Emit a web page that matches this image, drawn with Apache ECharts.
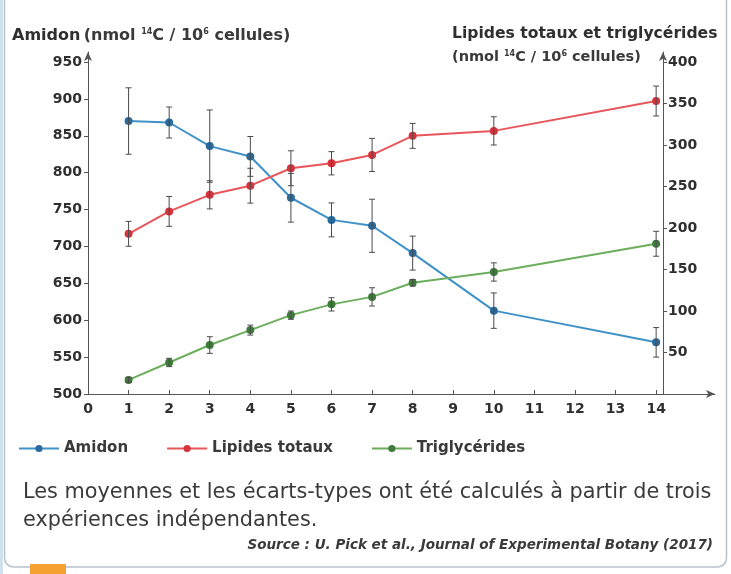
<!DOCTYPE html>
<html>
<head>
<meta charset="utf-8">
<script src="https://cdn.jsdelivr.net/npm/echarts@6/dist/echarts.min.js"></script>
<style>
  html, body { margin: 0; padding: 0; background: #ffffff; }
  #chart { width: 731px; height: 574px; }
</style>
</head>
<body>
<div id="chart"></div>
<script>
// Culture time (days)
const days = [1, 2, 3, 4, 5, 6, 7, 8, 10, 14];

// Starch (nmol 14C / 10^6 cells), mean and standard deviation
const amidon = [870, 868, 836, 822, 766, 736, 728, 691, 613, 570];
const amidonSd = [45, 21, 49, 27, 33, 23, 36, 23, 24, 20];

// Total lipids (nmol 14C / 10^6 cells)
const lipides = [193, 220, 240, 251, 272, 278, 288, 311, 317, 353];
const lipidesSd = [15, 18, 17, 21, 21, 14, 20, 15, 17, 18];

// Triglycerides (nmol 14C / 10^6 cells)
const trigly = [17, 38, 59, 77, 95, 108, 117, 134, 147, 181];
const triglySd = [3, 5, 10, 6, 5, 8, 11, 4, 11, 15];

// Axis tick labels
const xTicks = [0, 1, 2, 3, 4, 5, 6, 7, 8, 9, 10, 11, 12, 13, 14];
const leftTicks = [500, 550, 600, 650, 700, 750, 800, 850, 900, 950];
const rightTicks = [50, 100, 150, 200, 250, 300, 350, 400];

const FONT = '"DejaVu Sans", sans-serif';
const TXT = '#2f2f2f';

function pairs(xs, ys) { return xs.map((x, i) => [x, ys[i]]); }
function errRows(xs, ys, sd) { return xs.map((x, i) => [x, ys[i] - sd[i], ys[i] + sd[i]]); }

function errorBars(api) {
  const x = api.value(0);
  const lo = api.coord([x, api.value(1)]);
  const hi = api.coord([x, api.value(2)]);
  const cap = 3;
  const style = { stroke: '#4a4a4a', lineWidth: 1 };
  return {
    type: 'group',
    children: [
      { type: 'line', shape: { x1: lo[0], y1: lo[1], x2: hi[0], y2: hi[1] }, style },
      { type: 'line', shape: { x1: lo[0] - cap, y1: lo[1], x2: lo[0] + cap, y2: lo[1] }, style },
      { type: 'line', shape: { x1: hi[0] - cap, y1: hi[1], x2: hi[0] + cap, y2: hi[1] }, style }
    ]
  };
}

// Rich text styles for the "(nmol 14C / 10^6 cellules)" unit strings
function unitRich(size) {
  return {
    b: { fontFamily: FONT, fontSize: size, fontWeight: 'bold', fill: TXT },
    n: { fontFamily: FONT, fontSize: size, fontWeight: 'bold', fill: '#3a3a3a' },
    s: { fontFamily: FONT, fontSize: 8, fontWeight: 'bold', fill: '#3a3a3a', verticalAlign: 'top', padding: [0, 0, 7, 0] }
  };
}

const chart = echarts.init(document.getElementById('chart'), null, { renderer: 'canvas' });

const axisText = { color: TXT, fontFamily: FONT, fontSize: 14, fontWeight: 'bold' };
const axisLineStyle = { color: '#555', width: 1 };

chart.setOption({
  animation: false,
  backgroundColor: '#ffffff',
  graphic: [
    { type: 'rect', shape: { x: 0, y: 0, width: 3, height: 574 }, style: { fill: '#cfe2ee' }, z: 0 },
    { type: 'rect', shape: { x: 4.5, y: -20, width: 722, height: 587, r: 9 },
      style: { fill: 'none', stroke: '#b7c3cb', lineWidth: 1.5 }, z: 0 },
    { type: 'rect', shape: { x: 30, y: 564, width: 36, height: 10 }, style: { fill: '#f5a233' }, z: 0 },
    { type: 'text', left: 12, top: 28, z: 10,
      style: { text: '{b|Amidon} {n|(nmol }{s|14}{n|C / 10}{s|6}{n| cellules)}', fill: TXT, rich: unitRich(16) } },
    { type: 'text', left: 452, top: 26, z: 10,
      style: { text: 'Lipides totaux et triglycérides', fill: TXT, fontFamily: FONT, fontSize: 15.6, fontWeight: 'bold' } },
    { type: 'text', left: 452, top: 50, z: 10,
      style: { text: '{n|(nmol }{s|14}{n|C / 10}{s|6}{n| cellules)}', fill: TXT, rich: unitRich(14.5) } },
    { type: 'text', left: 23, top: 482, z: 10,
      style: { text: 'Les moyennes et les écarts-types ont été calculés à partir de trois', fill: '#3a3a3a', fontFamily: FONT, fontSize: 20.8 } },
    { type: 'text', left: 23, top: 510, z: 10,
      style: { text: 'expériences indépendantes.', fill: '#3a3a3a', fontFamily: FONT, fontSize: 20.8 } },
    { type: 'text', right: 18, top: 538, z: 10,
      style: { text: 'Source : U. Pick et al., Journal of Experimental Botany (2017)', fill: '#3a3a3a', fontFamily: FONT, fontSize: 13.5, fontWeight: 'bold', fontStyle: 'italic', align: 'right' } }
  ],
  legend: {
    left: 13, top: 436,
    itemWidth: 40, itemHeight: 9, itemGap: 38,
    textStyle: { color: '#3a3a3a', fontFamily: FONT, fontSize: 15, fontWeight: 'bold' },
    data: ['Amidon', 'Lipides totaux', 'Triglycérides']
  },
  grid: { left: 88, right: 16, top: 52, bottom: 180, containLabel: false },
  xAxis: {
    type: 'value', min: 0, max: 15.45,
    axisLine: { onZero: false, lineStyle: axisLineStyle, symbol: ['none', 'arrow'], symbolSize: [6, 9] },
    axisTick: { show: true, inside: true, length: 4, lineStyle: axisLineStyle, customValues: xTicks },
    axisLabel: { ...axisText, margin: 8, customValues: xTicks },
    splitLine: { show: false }
  },
  yAxis: [
    {
      type: 'value', min: 500, max: 963.55, position: 'left',
      axisLine: { show: true, lineStyle: axisLineStyle, symbol: ['none', 'arrow'], symbolSize: [6, 9] },
      axisTick: { show: true, length: 4, lineStyle: axisLineStyle, customValues: leftTicks },
      axisLabel: { ...axisText, margin: 6, customValues: leftTicks },
      splitLine: { show: false }
    },
    {
      type: 'value', min: 0, max: 412.05, position: 'right', offset: -52,
      axisLine: { show: true, lineStyle: axisLineStyle, symbol: ['none', 'arrow'], symbolSize: [6, 9] },
      axisTick: { show: true, length: 4, lineStyle: axisLineStyle, customValues: rightTicks },
      axisLabel: { ...axisText, margin: 5, customValues: rightTicks },
      splitLine: { show: false }
    }
  ],
  series: [
    {
      name: 'Amidon', type: 'line', yAxisIndex: 0, data: pairs(days, amidon),
      symbol: 'circle', symbolSize: 8,
      lineStyle: { color: '#3f92c8', width: 2 },
      itemStyle: { color: '#2a6a9c' }, z: 2
    },
    {
      name: 'Lipides totaux', type: 'line', yAxisIndex: 1, data: pairs(days, lipides),
      symbol: 'circle', symbolSize: 8,
      lineStyle: { color: '#e8565c', width: 2 },
      itemStyle: { color: '#d6333c' }, z: 2
    },
    {
      name: 'Triglycérides', type: 'line', yAxisIndex: 1, data: pairs(days, trigly),
      symbol: 'circle', symbolSize: 8,
      lineStyle: { color: '#6cae5c', width: 2 },
      itemStyle: { color: '#3f7c3c' }, z: 2
    },
    { type: 'custom', yAxisIndex: 0, data: errRows(days, amidon, amidonSd), renderItem: (p, api) => errorBars(api), z: 3, silent: true },
    { type: 'custom', yAxisIndex: 1, data: errRows(days, lipides, lipidesSd), renderItem: (p, api) => errorBars(api), z: 3, silent: true },
    { type: 'custom', yAxisIndex: 1, data: errRows(days, trigly, triglySd), renderItem: (p, api) => errorBars(api), z: 3, silent: true }
  ]
});
</script>
</body>
</html>
